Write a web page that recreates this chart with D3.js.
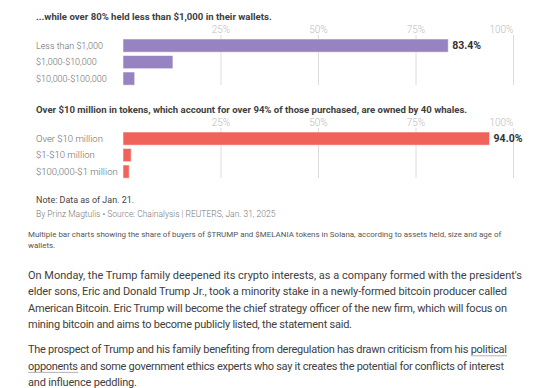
<!DOCTYPE html>
<html>
<head>
<meta charset="utf-8">
<script src="https://cdn.jsdelivr.net/npm/d3@7"></script>
<style>
  html, body { margin: 0; padding: 0; background: #fff; }
  svg { display: block; }
  text { font-family: Roboto, "Noto Sans", sans-serif; }
</style>
</head>
<body>
<svg id="chart" width="540" height="388"></svg>
<script>
// ---- data ----
const title1 = "...while over 80% held less than $1,000 in their wallets.";
const categories1 = ["Less than $1,000", "$1,000-$10,000", "$10,000-$100,000"];
const values1 = [83.4, 12.8, 3.0];

const title2 = "Over $10 million in tokens, which account for over 94% of those purchased, are owned by 40 whales.";
const categories2 = ["Over $10 million", "$1-$10 million", "$100,000-$1 million"];
const values2 = [94.0, 2.1, 1.6];

const tickValues = [25, 50, 75, 100];
const tickLabels = ["25%", "50%", "75%", "100%"];

const noteText = "Note: Data as of Jan. 21.";
const creditText = "By Prinz Magtulis \u2022 Source: Chainalysis | REUTERS, Jan. 31, 2025";
const captionLines = [
  "Multiple bar charts showing the share of buyers of $TRUMP and $MELANIA tokens in Solana, according to assets held, size and age of",
  "wallets."
];
const para1 = [
  "On Monday, the Trump family deepened its crypto interests, as a company formed with the president's",
  "elder sons, Eric and Donald Trump Jr., took a minority stake in a newly-formed bitcoin producer called",
  "American Bitcoin. Eric Trump will become the chief strategy officer of the new firm, which will focus on",
  "mining bitcoin and aims to become publicly listed, the statement said."
];
const para2 = [
  [["The prospect of Trump and his family benefiting from deregulation has drawn criticism from his ", false], ["political", true]],
  [["opponents", true], [" and some government ethics experts who say it creates the potential for conflicts of interest", false]],
  [["and influence peddling.", false]]
];

// ---- drawing ----
const svg = d3.select("#chart");

function fit(sel, target) {
  const w = sel.node().getComputedTextLength();
  const fs = parseFloat(sel.attr("font-size"));
  const nfs = fs * target / w;
  sel.attr("font-size", Math.max(fs * 0.7, Math.min(fs * 1.3, nfs)));
  return +sel.attr("font-size");
}

const x = d3.scaleLinear().domain([0, 100]).range([123, 513]);

function barChart(cfg) {
  const g = svg.append("g").attr("transform", `translate(0,${cfg.dy})`);
  const t = g.append("text").text(cfg.title)
    .attr("x", 36).attr("y", 19.5)
    .attr("font-size", 10).attr("font-weight", 700).attr("fill", "#404040");
  fit(t, cfg.titleWidth);

  const y = d3.scaleBand().domain(cfg.categories).range([37.35, 86.85])
    .paddingInner(0.2).paddingOuter(0.1);

  // gridlines + tick labels
  const axis = d3.axisTop(x).tickValues(tickValues)
    .tickFormat((d, i) => tickLabels[i]).tickSize(-(85 - 35)).tickPadding(3);
  const ax = g.append("g").attr("transform", "translate(0,35)").call(axis);
  ax.select(".domain").remove();
  ax.selectAll(".tick line").attr("stroke", "#dcdcdc").attr("stroke-width", 1);
  ax.selectAll(".tick text").attr("fill", "#bdbdbd").attr("font-size", 10)
    .attr("font-family", "Roboto, sans-serif").attr("font-weight", 300)
    .attr("dy", "0.1em")
    .attr("text-anchor", (d, i) => i === tickValues.length - 1 ? "end" : "middle");

  // bars
  g.selectAll("rect.bar").data(cfg.values).join("rect")
    .attr("class", "bar")
    .attr("x", x(0))
    .attr("y", (d, i) => y(cfg.categories[i]))
    .attr("width", d => x(d) - x(0))
    .attr("height", y.bandwidth())
    .attr("fill", cfg.color)
    .attr("stroke", "#ffffff").attr("stroke-opacity", 0.55).attr("stroke-width", 1);

  // category labels
  const labs = g.selectAll("text.cat").data(cfg.categories).join("text")
    .attr("class", "cat")
    .attr("x", 36)
    .attr("y", d => y(d) + y.bandwidth() / 2)
    .attr("dy", "0.35em")
    .attr("font-size", 10.5).attr("font-weight", 300).attr("fill", "#6a6a6a")
    .text(d => d);
  const fs = fit(d3.select(labs.nodes()[0]), 67);
  labs.attr("font-size", fs);

  // value label on top bar
  g.append("text")
    .attr("x", x(cfg.values[0]) + 4)
    .attr("y", y(cfg.categories[0]) + y.bandwidth() / 2)
    .attr("dy", "0.35em")
    .attr("font-size", 10.5).attr("font-weight", 700).attr("fill", "#333")
    .text(cfg.values[0].toFixed(1) + "%");
}

barChart({ dy: 0, title: title1, titleWidth: 236, categories: categories1, values: values1, color: "#9783c2" });
barChart({ dy: 93, title: title2, titleWidth: 432, categories: categories2, values: values2, color: "#ef635a" });

// notes
const credit = svg.append("text").attr("x", 36).attr("y", 217)
  .attr("font-size", 9).attr("fill", "#7a7a7a").attr("font-weight", 300).text(creditText);
const crfs = fit(credit, 240);
svg.append("text").attr("x", 36).attr("y", 202.5)
  .attr("font-size", crfs * 1.05).attr("fill", "#444").text(noteText);

const cap = svg.selectAll("text.cap").data(captionLines).join("text")
  .attr("class", "cap").attr("x", 28).attr("y", (d, i) => 237 + i * 10.5)
  .attr("font-size", 8.5).attr("fill", "#555").text(d => d);
const cfs = fit(d3.select(cap.nodes()[0]), 474);
cap.attr("font-size", cfs);

// paragraphs
const para1Widths = [494, 479, 479, 324];
const para2Widths = [479, 476, 109];
const lh = 16.6;
const p1 = svg.selectAll("text.p1").data(para1).join("text")
  .attr("class", "p1").attr("x", 28).attr("y", (d, i) => 278.5 + i * lh)
  .attr("font-size", 12).attr("fill", "#404040").text(d => d);
const pfs = fit(d3.select(p1.nodes()[0]), 494);
p1.attr("font-size", pfs)
  .attr("textLength", (d, i) => para1Widths[i]).attr("lengthAdjust", "spacing");

para2.forEach((segs, i) => {
  const by = 353 + i * lh;
  const t = svg.append("text").attr("x", 28).attr("y", by)
    .attr("font-size", pfs).attr("fill", "#404040");
  segs.forEach(([s, u]) => {
    const ts = t.append("tspan").text(s);
    if (u) ts.attr("data-u", 1);
  });
  t.attr("textLength", para2Widths[i]).attr("lengthAdjust", "spacing");
  t.selectAll("tspan[data-u]").each(function () {
    const b = this.getBBox();
    svg.append("line")
      .attr("x1", b.x).attr("x2", b.x + b.width)
      .attr("y1", by + 2.8).attr("y2", by + 2.8)
      .attr("stroke", "#a0a0a0").attr("stroke-width", 0.8);
  });
});
</script>
</body>
</html>
